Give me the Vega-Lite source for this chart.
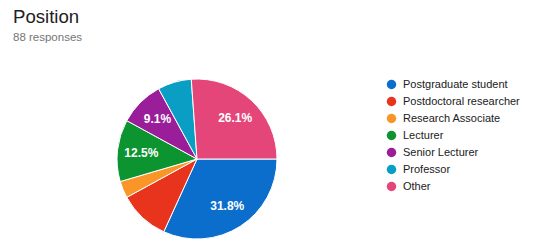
{
  "$schema": "https://vega.github.io/schema/vega-lite/v6.json",
  "autosize": {"type": "none"},
  "width": 394,
  "height": 214,
  "padding": {"top": 52, "left": 0, "right": 146, "bottom": 0},
  "background": "white",
  "title": {
    "text": "Position",
    "subtitle": "88 responses",
    "anchor": "start",
    "frame": "group",
    "dx": 13,
    "offset": 9,
    "font": "Liberation Sans",
    "fontSize": 18.6,
    "fontWeight": "normal",
    "color": "#212121",
    "subtitleFont": "Liberation Sans",
    "subtitleFontSize": 11.5,
    "subtitleColor": "#757575",
    "subtitlePadding": 5
  },
  "data": {
    "values": [
      {"position": "Postgraduate student", "count": 28, "label": "31.8%"},
      {"position": "Postdoctoral researcher", "count": 9, "label": ""},
      {"position": "Research Associate", "count": 3, "label": ""},
      {"position": "Lecturer", "count": 11, "label": "12.5%"},
      {"position": "Senior Lecturer", "count": 8, "label": "9.1%"},
      {"position": "Professor", "count": 6, "label": ""},
      {"position": "Other", "count": 23, "label": "26.1%"}
    ]
  },
  "transform": [{"window": [{"op": "row_number", "as": "idx"}]}],
  "encoding": {
    "theta": {"field": "count", "type": "quantitative", "stack": true, "scale": {"range": [1.5707963, 7.8539816]}},
    "order": {"field": "idx", "type": "quantitative"},
    "color": {
      "field": "position",
      "type": "nominal",
      "sort": null,
      "scale": {
        "domain": ["Postgraduate student", "Postdoctoral researcher", "Research Associate", "Lecturer", "Senior Lecturer", "Professor", "Other"],
        "range": ["#0b6ecc", "#e8341d", "#fa9528", "#0c9431", "#9a1e9a", "#0a9ec4", "#e5467a"]
      },
      "legend": {
        "title": null,
        "orient": "none",
        "legendX": 386,
        "legendY": 27,
        "symbolType": "circle",
        "symbolSize": 90,
        "symbolStrokeWidth": 0,
        "rowPadding": 5,
        "labelFont": "Liberation Sans",
        "labelFontSize": 11,
        "labelColor": "#212121",
        "labelOffset": 6
      }
    }
  },
  "layer": [
    {"mark": {"type": "arc", "outerRadius": 80, "stroke": "white", "strokeWidth": 1}},
    {
      "mark": {"type": "text", "radius": 56, "font": "Liberation Sans", "fontSize": 12, "fontWeight": "bold", "fill": "white"},
      "encoding": {"text": {"field": "label"}, "color": {"value": "white"}}
    }
  ],
  "view": {"stroke": null}
}
